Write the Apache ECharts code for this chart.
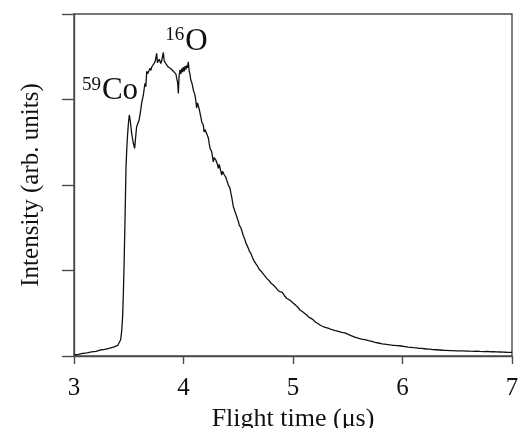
<!DOCTYPE html>
<html><head><meta charset="utf-8">
<script src="https://cdn.jsdelivr.net/npm/echarts@6/dist/echarts.min.js"></script>
<style>html,body{margin:0;padding:0;background:#fff}#c{width:523px;height:428px}</style>
</head><body><div id="c"></div>
<script>
var flightTime = [3.000,3.040,3.080,3.120,3.160,3.200,3.240,3.280,3.320,3.360,3.400,3.415,3.426,3.436,3.444,3.450,3.457,3.466,3.475,3.483,3.490,3.497,3.505,3.515,3.527,3.540,3.554,3.563,3.572,3.585,3.595,3.603,3.612,3.618,3.633,3.648,3.656,3.664,3.672,3.680,3.694,3.702,3.710,3.718,3.725,3.740,3.748,3.755,3.762,3.770,3.778,3.785,3.793,3.800,3.808,3.816,3.824,3.831,3.839,3.846,3.854,3.861,3.870,3.877,3.885,3.892,3.900,3.907,3.915,3.922,3.930,3.938,3.946,3.953,3.960,3.968,3.976,3.984,3.991,3.998,4.006,4.014,4.021,4.029,4.036,4.044,4.052,4.059,4.066,4.075,4.084,4.090,4.097,4.105,4.112,4.120,4.128,4.135,4.143,4.151,4.158,4.166,4.174,4.181,4.188,4.196,4.204,4.212,4.220,4.227,4.235,4.242,4.250,4.257,4.265,4.272,4.280,4.288,4.296,4.303,4.310,4.318,4.326,4.333,4.341,4.349,4.356,4.364,4.372,4.379,4.387,4.394,4.402,4.409,4.417,4.425,4.432,4.440,4.448,4.455,4.463,4.470,4.478,4.486,4.494,4.501,4.509,4.516,4.524,4.531,4.540,4.546,4.554,4.562,4.570,4.577,4.584,4.592,4.600,4.607,4.615,4.623,4.631,4.638,4.646,4.653,4.660,4.668,4.676,4.684,4.691,4.699,4.707,4.714,4.722,4.729,4.737,4.745,4.752,4.760,4.768,4.775,4.783,4.790,4.800,4.810,4.820,4.830,4.840,4.851,4.861,4.871,4.881,4.891,4.902,4.912,4.922,4.932,4.942,4.952,4.963,4.973,4.983,4.993,5.003,5.013,5.024,5.034,5.044,5.054,5.064,5.074,5.085,5.095,5.105,5.115,5.125,5.135,5.146,5.156,5.166,5.176,5.186,5.196,5.207,5.217,5.227,5.237,5.247,5.257,5.268,5.280,5.294,5.307,5.320,5.335,5.350,5.368,5.385,5.400,5.415,5.430,5.445,5.460,5.475,5.490,5.505,5.520,5.535,5.550,5.565,5.580,5.595,5.610,5.625,5.640,5.655,5.673,5.690,5.705,5.720,5.734,5.750,5.765,5.780,5.795,5.815,5.835,5.855,5.870,5.886,5.905,5.925,5.945,5.960,5.977,6.000,6.025,6.050,6.075,6.100,6.125,6.150,6.175,6.200,6.220,6.250,6.280,6.310,6.340,6.370,6.400,6.430,6.460,6.490,6.520,6.550,6.586,6.620,6.650,6.680,6.708,6.740,6.770,6.800,6.830,6.860,6.890,6.920,6.950,6.980,7.000];
var intensity = [0.012,0.020,0.030,0.036,0.048,0.055,0.070,0.078,0.090,0.105,0.125,0.135,0.190,0.300,0.460,0.700,1.045,1.600,2.214,2.450,2.604,2.720,2.819,2.740,2.600,2.500,2.429,2.560,2.682,2.700,2.760,2.780,2.900,2.960,3.050,3.190,3.150,3.330,3.300,3.320,3.365,3.340,3.380,3.400,3.380,3.440,3.420,3.540,3.430,3.420,3.470,3.480,3.420,3.450,3.500,3.550,3.450,3.460,3.420,3.400,3.410,3.380,3.370,3.390,3.360,3.345,3.360,3.330,3.340,3.320,3.300,3.290,3.200,3.070,3.280,3.345,3.300,3.360,3.320,3.380,3.330,3.390,3.350,3.400,3.370,3.440,3.330,3.300,3.230,3.200,3.150,3.110,3.080,3.050,2.990,2.900,2.960,2.955,2.890,2.840,2.800,2.740,2.720,2.700,2.620,2.650,2.630,2.600,2.580,2.550,2.480,2.430,2.420,2.390,2.330,2.270,2.320,2.310,2.290,2.300,2.240,2.195,2.240,2.234,2.160,2.117,2.160,2.175,2.120,2.097,2.090,2.060,2.030,2.000,1.990,1.960,1.910,1.860,1.800,1.746,1.720,1.690,1.660,1.630,1.600,1.575,1.530,1.510,1.500,1.470,1.454,1.410,1.390,1.357,1.320,1.300,1.285,1.260,1.230,1.215,1.200,1.180,1.150,1.135,1.110,1.100,1.080,1.064,1.050,1.040,1.015,1.006,0.995,0.985,0.972,0.967,0.945,0.935,0.922,0.908,0.895,0.888,0.880,0.869,0.850,0.845,0.830,0.812,0.805,0.790,0.770,0.768,0.752,0.742,0.745,0.733,0.705,0.700,0.675,0.680,0.660,0.655,0.640,0.632,0.616,0.605,0.595,0.577,0.570,0.548,0.538,0.530,0.520,0.505,0.500,0.488,0.480,0.470,0.452,0.445,0.440,0.425,0.421,0.410,0.395,0.390,0.380,0.372,0.363,0.355,0.348,0.340,0.335,0.324,0.325,0.315,0.310,0.304,0.298,0.290,0.288,0.284,0.276,0.272,0.270,0.265,0.252,0.245,0.236,0.226,0.220,0.215,0.208,0.203,0.198,0.195,0.192,0.187,0.180,0.176,0.170,0.167,0.160,0.158,0.152,0.148,0.142,0.139,0.135,0.131,0.129,0.126,0.124,0.122,0.118,0.120,0.114,0.110,0.104,0.102,0.097,0.095,0.090,0.088,0.085,0.082,0.080,0.074,0.073,0.070,0.067,0.065,0.063,0.062,0.060,0.059,0.060,0.058,0.056,0.055,0.056,0.054,0.052,0.053,0.050,0.050,0.048,0.047,0.046,0.044,0.043,0.043];
var xTicks = [3,4,5,6,7];
var peakLabels = [
  {sup:'59', name:'Co', t:3.329, v:3.10},
  {sup:'16', name:'O', t:4.027, v:3.68}
];

var chart = echarts.init(document.getElementById('c'));
var data = flightTime.map(function(t,i){return [t,intensity[i]];});
var font = '"Liberation Serif","Times New Roman",serif';
chart.setOption({
  animation:false,
  grid:{left:74,right:11,top:14,bottom:72,show:true,borderColor:'#4a4a4a',borderWidth:1.4,containLabel:false,outerBoundsMode:'none'},
  xAxis:{type:'value',min:3,max:7,interval:1,
    name:'Flight time (\u03bcs)',nameLocation:'middle',nameGap:50,
    nameTextStyle:{fontFamily:font,fontSize:26,color:'#111'},
    axisLine:{lineStyle:{color:'#4a4a4a',width:1.4}},
    axisTick:{inside:false,length:8,lineStyle:{color:'#4a4a4a',width:1.4}},
    axisLabel:{fontFamily:font,fontSize:25,color:'#111',margin:20,
      formatter:function(v){return xTicks.indexOf(v)>=0?String(v):'';}},
    splitLine:{show:false}},
  yAxis:{type:'value',min:0,max:4,interval:1,
    name:'Intensity (arb. units)',nameLocation:'middle',nameGap:30,nameRotate:90,
    nameTextStyle:{fontFamily:font,fontSize:25,color:'#111'},
    axisLine:{show:true,lineStyle:{color:'#4a4a4a',width:1.4}},
    axisTick:{inside:false,length:12,lineStyle:{color:'#4a4a4a',width:1.4}},
    axisLabel:{show:false},
    splitLine:{show:false}},
  series:[{type:'line',data:data,showSymbol:false,symbol:'none',
    lineStyle:{color:'#111',width:1.3},
    markPoint:{symbol:'circle',symbolSize:0,silent:true,
      data:peakLabels.map(function(p){return {coord:[p.t,p.v],
        label:{show:true,position:'inside',formatter:'{s|'+p.sup+'}{n|'+p.name+'}',
          rich:{s:{fontFamily:font,fontSize:19,color:'#111',verticalAlign:'top',padding:[0,1,10,0]},
                n:{fontFamily:font,fontSize:31,color:'#111'}}}};})}
  }]
});
</script></body></html>
